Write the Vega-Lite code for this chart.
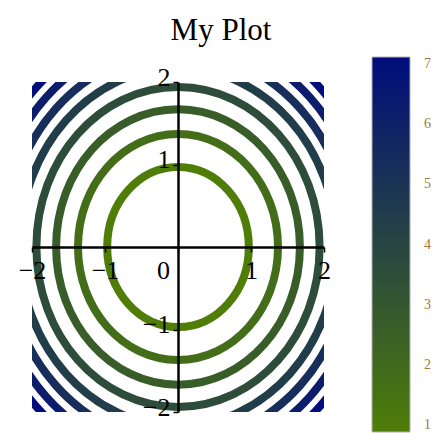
{
  "$schema": "https://vega.github.io/schema/vega-lite/v6.json",
  "width": 292,
  "height": 330,
  "autosize": "none",
  "padding": {"left": 32, "top": 82, "right": 109, "bottom": 21},
  "background": "white",
  "title": {
    "text": "My Plot",
    "font": "Liberation Serif",
    "fontSize": 31,
    "fontWeight": "normal",
    "color": "black",
    "frame": "group",
    "anchor": "middle",
    "dx": 43,
    "offset": -14,
    "baseline": "alphabetic"
  },
  "config": {"view": {"stroke": null}},
  "data": {
    "values": [
      {"cx": 0, "cy": 0, "level": 0.889, "r": 0.97},
      {"cx": 0, "cy": 0, "level": 1.778, "r": 1.37},
      {"cx": 0, "cy": 0, "level": 2.667, "r": 1.67},
      {"cx": 0, "cy": 0, "level": 3.556, "r": 1.94},
      {"cx": 0, "cy": 0, "level": 4.444, "r": 2.17},
      {"cx": 0, "cy": 0, "level": 5.333, "r": 2.37},
      {"cx": 0, "cy": 0, "level": 6.222, "r": 2.56},
      {"cx": 0, "cy": 0, "level": 7.111, "r": 2.74}
    ]
  },
  "mark": {
    "type": "point",
    "shape": "M-1,0A1,1.13,0,1,0,1,0A1,1.13,0,1,0,-1,0Z",
    "filled": false,
    "strokeWidth": 8,
    "opacity": 1,
    "clip": true
  },
  "encoding": {
    "x": {
      "field": "cx",
      "type": "quantitative",
      "scale": {"domain": [-2, 2], "nice": false, "zero": false},
      "axis": {
        "orient": "bottom",
        "offset": -165,
        "values": [-2, -1.5, -1, -0.5, 0, 0.5, 1, 1.5, 2],
        "format": "d",
        "labelExpr": "datum.value % 1 == 0 ? datum.label : ''",
        "title": null,
        "grid": false,
        "domainColor": "black",
        "domainWidth": 2.5,
        "tickColor": "black",
        "tickWidth": 1.5,
        "tickSize": 5,
        "labelFont": "Liberation Serif",
        "labelFontSize": 26,
        "labelColor": "black",
        "labelPadding": 5,
        "labelOffset": {"condition": {"test": "datum.value == 0", "value": -15}, "value": 0},
        "labelFlush": false,
        "labelOverlap": false,
        "zindex": 1
      }
    },
    "y": {
      "field": "cy",
      "type": "quantitative",
      "scale": {"domain": [-2, 2], "nice": false, "zero": false},
      "axis": {
        "orient": "left",
        "offset": -146,
        "values": [-2, -1.5, -1, -0.5, 0, 0.5, 1, 1.5, 2],
        "format": "d",
        "labelExpr": "(datum.value % 1 == 0 && datum.value != 0) ? datum.label : ''",
        "title": null,
        "grid": false,
        "domainColor": "black",
        "domainWidth": 2.5,
        "tickColor": "black",
        "tickWidth": 1.5,
        "tickSize": 5,
        "labelFont": "Liberation Serif",
        "labelFontSize": 26,
        "labelColor": "black",
        "labelPadding": 3,
        "labelOffset": -5,
        "labelFlush": false,
        "labelOverlap": false,
        "zindex": 1
      }
    },
    "size": {
      "field": "r",
      "type": "quantitative",
      "scale": {"type": "pow", "exponent": 2, "domain": [0, 1], "range": [0, 21316]},
      "legend": null
    },
    "color": {
      "field": "level",
      "type": "quantitative",
      "scale": {
        "domain": [0.889, 7.111],
        "range": ["#4f7d08", "#000d7c"],
        "interpolate": "rgb"
      },
      "legend": {
        "orient": "none",
        "legendX": 340,
        "legendY": -25,
        "direction": "vertical",
        "gradientLength": 375,
        "gradientThickness": 38,
        "gradientStrokeColor": "#b0b0b0",
        "gradientStrokeWidth": 1,
        "values": [1, 2, 3, 4, 5, 6, 7],
        "title": null,
        "labelFont": "Liberation Serif",
        "labelFontSize": 14,
        "labelColor": "#a07840",
        "labelOffset": 14,
        "labelOverlap": false
      }
    }
  }
}
